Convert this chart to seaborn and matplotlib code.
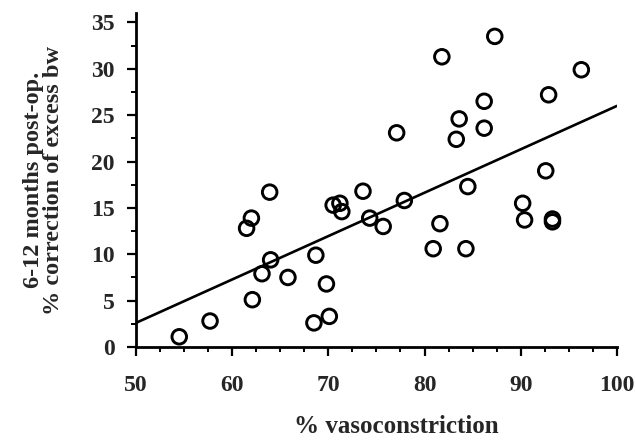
import matplotlib
matplotlib.use("Agg")
import matplotlib.pyplot as plt
from matplotlib.ticker import MultipleLocator
import seaborn as sns
import pandas as pd

# data
vasoconstriction = [54.5, 57.7, 62.1, 63.1, 64.0, 65.8, 61.5, 62.0, 63.9, 68.5,
                    68.7, 69.8, 70.1, 70.5, 71.2, 71.4, 73.6, 74.3, 75.7, 77.9,
                    77.1, 80.9, 81.6, 81.8, 83.3, 83.6, 84.3, 84.5, 86.2, 86.2,
                    87.3, 90.2, 90.4, 92.6, 92.9, 93.3, 93.3, 96.3]
correction = [1.1, 2.8, 5.1, 7.9, 9.4, 7.5, 12.8, 13.9, 16.7, 2.6,
              9.9, 6.8, 3.3, 15.3, 15.5, 14.6, 16.8, 13.9, 13.0, 15.8,
              23.1, 10.6, 13.3, 31.3, 22.4, 24.6, 10.6, 17.3, 23.6, 26.5,
              33.5, 15.5, 13.7, 19.0, 27.2, 13.8, 13.5, 29.9]
fit_x = [50, 100]
fit_y = [2.6, 26.0]

df = pd.DataFrame({"vaso": vasoconstriction, "corr": correction})
fit = pd.DataFrame({"x": fit_x, "y": fit_y})

sns.set_style("ticks")
plt.rcParams["font.family"] = ["Liberation Serif", "DejaVu Serif"]
plt.rcParams["font.weight"] = "bold"

fig = plt.figure(figsize=(6.36, 4.4), dpi=100)
ax = fig.add_axes([0.2138, 0.2114, 0.7562, 0.7586])

sns.scatterplot(data=df, x="vaso", y="corr", ax=ax, marker="o", s=110,
                facecolor="none", edgecolor="black", linewidth=2.1, zorder=3)
sns.lineplot(data=fit, x="x", y="y", ax=ax, color="black", linewidth=1.9)

ax.set_xlim(50, 100)
ax.set_ylim(0, 36)
ax.xaxis.set_major_locator(MultipleLocator(10))
ax.xaxis.set_minor_locator(MultipleLocator(2.5))
ax.yaxis.set_major_locator(MultipleLocator(5))
ax.yaxis.set_minor_locator(MultipleLocator(2.5))
ax.tick_params(which="major", length=6.5, width=1.6, labelsize=17, color="black")
ax.tick_params(which="minor", length=3.5, width=1.4, color="black")
ax.tick_params(axis="x", which="major", pad=14)
ax.tick_params(axis="y", which="major", pad=9)
for lab in ax.get_xticklabels() + ax.get_yticklabels():
    lab.set_fontweight("bold")

sns.despine(ax=ax)
for sp in ["left", "bottom"]:
    ax.spines[sp].set_linewidth(2.0)
    ax.spines[sp].set_color("black")

ax.set_xlabel("% vasoconstriction", fontsize=18, fontweight="bold")
ax.set_ylabel("6-12 months post-op.\n% correction of excess bw", fontsize=17.5,
              fontweight="bold", linespacing=0.95)
ax.xaxis.set_label_coords(0.5416, -0.203)
ax.yaxis.set_label_coords(-0.150, 0.5)

fig.savefig("out.png", dpi=100)
